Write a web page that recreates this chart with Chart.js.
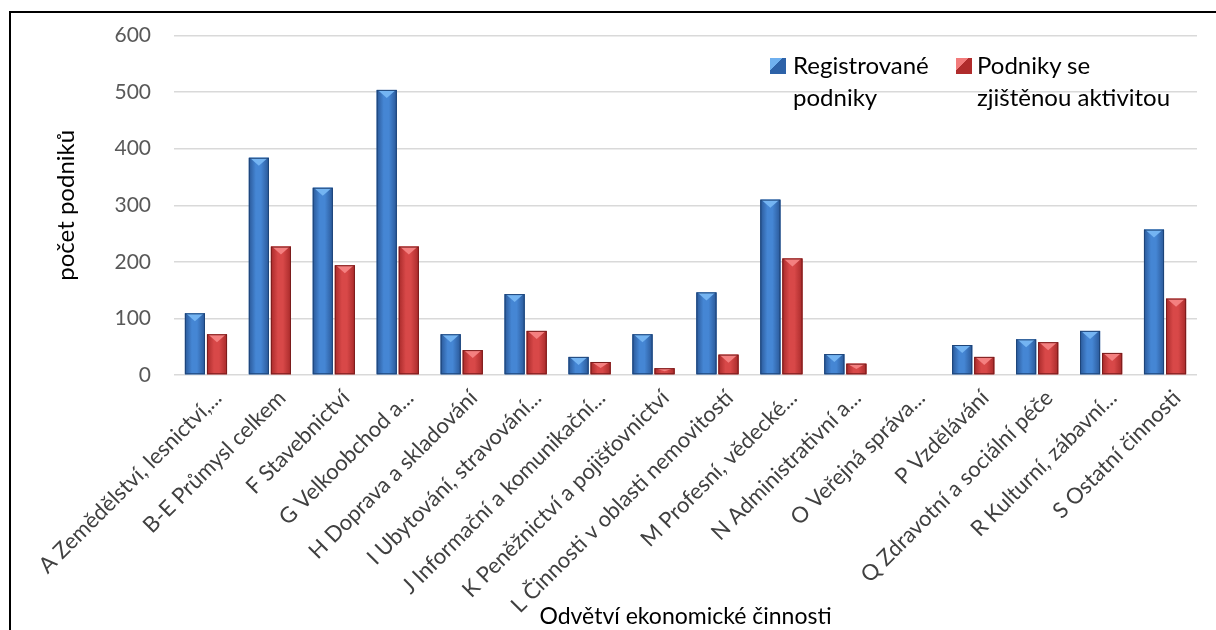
<!DOCTYPE html>
<html lang="cs">
<head>
<meta charset="UTF-8">
<title>Počet podniků podle odvětví</title>
<script src="https://cdn.jsdelivr.net/npm/chart.js"></script>
<style>
    html, body {
        margin: 0;
        padding: 0;
        background: #fff;
        overflow: hidden;
    }
    #wrap {
        position: relative;
        width: 1216px;
        height: 630px;
    }
    #frame {
        position: absolute;
        left: 9px;
        top: 11px;
        width: 1300px;
        height: 700px;
        border-top: 2px solid #000;
        border-left: 2px solid #000;
    }
    canvas {
        position: absolute;
        left: 0;
        top: 0;
    }
    .lg {
        position: absolute;
        font-family: Lato, "Noto Sans", sans-serif;
        font-size: 24px;
        line-height: 32px;
        color: #000;
        white-space: nowrap;
    }
    .box {
        position: absolute;
        width: 16px;
        height: 16px;
    }
</style>
</head>
<body>
<div id="wrap">
    <div id="frame"></div>
    <canvas id="myBarChart" width="1216" height="630"></canvas>
    <div class="box" style="left:770px;top:58px;background:linear-gradient(135deg,#6fb0ef 0 40%,#2d62a8 40%);"></div>
    <div class="lg" style="left:793px;top:49px;">Registrované<br>podniky</div>
    <div class="box" style="left:956px;top:58px;background:linear-gradient(135deg,#f27b7b 0 40%,#b02c2c 40%);"></div>
    <div class="lg" style="left:977px;top:49px;">Podniky se<br>zjištěnou aktivitou</div>
</div>

<script>
// data
var categories = [
    'A Zemědělství, lesnictví,...',
    'B-E Průmysl celkem',
    'F Stavebnictví',
    'G Velkoobchod a...',
    'H Doprava a skladování',
    'I Ubytování, stravování...',
    'J Informační a komunikační...',
    'K Peněžnictví a pojišťovnictví',
    'L Činnosti v oblasti nemovitostí',
    'M Profesní, vědecké...',
    'N Administrativní a...',
    'O Veřejná správa...',
    'P Vzdělávání',
    'Q Zdravotní a sociální péče',
    'R Kulturní, zábavní...',
    'S Ostatní činnosti'
];
var registrovane = [109, 384, 331, 504, 72, 143, 32, 72, 146, 310, 37, 0, 53, 63, 78, 257];
var aktivni = [72, 227, 194, 227, 44, 78, 23, 12, 36, 206, 20, 0, 32, 58, 39, 135];
var seriesNames = ['Registrované podniky', 'Podniky se zjištěnou aktivitou'];
var yTicks = [0, 100, 200, 300, 400, 500, 600];

var fontFamily = 'Lato, "Noto Sans", sans-serif';

var palettes = [
    { edge: '#1d4478', dark: '#2a5898', light: '#4586d4', top: '#74b4f2' },
    { edge: '#7a1c1c', dark: '#a82a2a', light: '#d84848', top: '#f48080' }
];

// gives the bars the bevelled Excel look
var barShade = {
    id: 'barShade',
    afterDatasetsDraw: function (chart) {
        var ctx = chart.ctx;
        chart.data.datasets.forEach(function (ds, di) {
            var meta = chart.getDatasetMeta(di);
            var pal = palettes[di];
            meta.data.forEach(function (bar) {
                var p = bar.getProps(['x', 'y', 'base', 'width'], true);
                var h = p.base - p.y;
                if (h < 1) return;
                var l = p.x - p.width / 2, r = p.x + p.width / 2;
                ctx.save();
                var g = ctx.createLinearGradient(l, 0, r, 0);
                g.addColorStop(0, pal.dark);
                g.addColorStop(0.35, pal.light);
                g.addColorStop(0.6, pal.light);
                g.addColorStop(1, pal.dark);
                ctx.fillStyle = g;
                ctx.fillRect(l, p.y, p.width, h);
                var bev = Math.min(8, h / 2);
                ctx.beginPath();
                ctx.moveTo(l + 1, p.y);
                ctx.lineTo(r - 1, p.y);
                ctx.lineTo(p.x, p.y + bev);
                ctx.closePath();
                ctx.fillStyle = pal.top;
                ctx.fill();
                ctx.strokeStyle = pal.edge;
                ctx.lineWidth = 1;
                ctx.strokeRect(l + 0.5, p.y + 0.5, p.width - 1, h - 1);
                ctx.restore();
            });
        });
    }
};

var barData = {
    labels: categories,
    datasets: [{
        label: seriesNames[0],
        data: registrovane,
        backgroundColor: '#3672bd',
        categoryPercentage: 0.69,
        barPercentage: 0.91
    }, {
        label: seriesNames[1],
        data: aktivni,
        backgroundColor: '#c23838',
        categoryPercentage: 0.69,
        barPercentage: 0.91
    }]
};

var barOptions = {
    responsive: false,
    animation: false,
    layout: {
        padding: { left: 0, right: 19, top: 35, bottom: 0 }
    },
    plugins: {
        legend: { display: false },
        tooltip: { enabled: false }
    },
    scales: {
        x: {
            grid: { display: false },
            border: { display: false },
            ticks: {
                autoSkip: false,
                minRotation: 45,
                maxRotation: 45,
                color: '#404040',
                padding: 2,
                labelOffset: 12,
                font: { family: fontFamily, size: 22 }
            },
            title: {
                display: true,
                text: 'Odvětví ekonomické činnosti',
                color: '#000',
                padding: { top: 0, bottom: 0 },
                font: { family: fontFamily, size: 23 }
            },
            afterFit: function (scale) {
                scale.height = 255;
            }
        },
        y: {
            min: 0,
            max: 600,
            afterBuildTicks: function (scale) {
                scale.ticks = yTicks.map(function (v) { return { value: v }; });
            },
            grid: {
                color: '#d9d9d9',
                lineWidth: 1.5,
                drawTicks: false
            },
            border: { display: false },
            ticks: {
                color: '#595959',
                padding: 23,
                font: { family: fontFamily, size: 21 }
            },
            title: {
                display: true,
                text: 'počet podniků',
                color: '#000',
                padding: { top: 52, bottom: 0 },
                font: { family: fontFamily, size: 24 }
            },
            afterFit: function (scale) {
                scale.width = 174;
            }
        }
    }
};

var ctxBar = document.getElementById('myBarChart').getContext('2d');
var myBarChart = new Chart(ctxBar, {
    type: 'bar',
    data: barData,
    options: barOptions,
    plugins: [barShade]
});
</script>
</body>
</html>
